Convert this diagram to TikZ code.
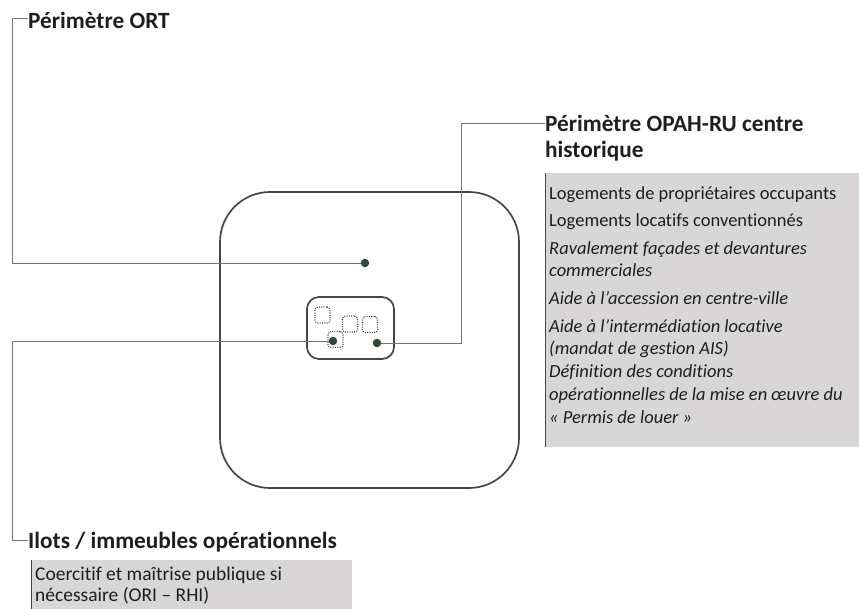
\documentclass[tikz,border=0pt]{standalone}
\usepackage{fontspec}
\setmainfont{Carlito}[Ligatures=NoCommon]
\definecolor{boxgray}{RGB}{216,214,214}
\definecolor{edgegray}{RGB}{70,70,70}
\definecolor{leadgray}{RGB}{115,115,115}
\definecolor{zonegray}{RGB}{70,70,70}
\definecolor{dotgreen}{RGB}{50,72,55}
\definecolor{inkgray}{RGB}{30,30,30}
\newcommand{\headfont}{\fontsize{23.3}{25.5}\selectfont\bfseries}
\newcommand{\listfont}{\fontsize{18.5}{22.8}\selectfont}
\newcommand{\notefont}{\fontsize{19.5}{21}\selectfont}
\begin{document}
\begin{tikzpicture}[x=1pt,y=-1pt,
    zone/.style={draw=zonegray,line width=1.7pt},
    plot/.style={draw=zonegray,dash pattern=on 1pt off 1.3pt,line width=1.2pt,rounded corners=3pt,minimum width=15pt,minimum height=16pt,inner sep=0pt},
    dot/.style={circle,fill=dotgreen,inner sep=0pt,minimum size=8.5pt},
    leader/.style={draw=leadgray,line width=0.9pt},
    heading/.style={font=\headfont,text=inkgray,inner sep=0pt},
    listbox/.style={fill=boxgray,inner sep=0pt},
    boxedge/.style={draw=edgegray,line width=1.3pt},
    listtext/.style={font=\listfont,text=inkgray,inner sep=0pt,align=left}]
  \useasboundingbox (0,0) rectangle (859,609);
  \node[zone,minimum width=299pt,minimum height=296pt,rounded corners=50pt] (ortzone) at (369.5,340) {};
  \node[zone,minimum width=87pt,minimum height=62pt,rounded corners=12pt] (opahzone) at (350.5,328) {};
  \node[plot] (plota) at (322.5,315) {};
  \node[plot] (plotb) at (350,324) {};
  \node[plot] (plotc) at (370,324.5) {};
  \node[plot] (plotd) at (335.5,339.5) {};
  \node[dot] (ortdot) at (365,263) {};
  \node[dot] (opahdot) at (377,343) {};
  \node[dot] (ilotdot) at (333,341) {};
  \node[heading,anchor=base west] (ortlabel) at (28,29) {Périmètre ORT};
  \node[heading,anchor=north west,align=left] (opahlabel) at (545,115) {Périmètre OPAH-RU centre\\historique};
  \node[heading,anchor=base west] (ilotlabel) at (28,548) {Ilots / immeubles opérationnels};
  \node[listbox,minimum width=313pt,minimum height=274pt] (opahbox) at (702.5,310) {};
  \draw[boxedge] (opahbox.north west) -- (opahbox.south west);
  \node[listtext,anchor=north west] (opahlist) at (549,186) {Logements de propriétaires occupants\\[4.5pt]
    Logements locatifs conventionnés\\[5pt]
    \itshape Ravalement façades et devantures\\
    \itshape commerciales\\[4.5pt]
    \itshape Aide à l’accession en centre-ville\\[5pt]
    \itshape Aide à l’intermédiation locative\\
    \itshape (mandat de gestion AIS)\\
    \itshape Définition des conditions\\
    \itshape opérationnelles de la mise en œuvre du\\
    \itshape «~Permis de louer~»};
  \node[listbox,minimum width=320pt,minimum height=49pt] (ilotbox) at (192,584.5) {};
  \draw[boxedge] (ilotbox.north west) -- (ilotbox.south west);
  \node[listtext,font=\notefont,anchor=north west] (ilotlist) at (35,567) {Coercitif et maîtrise publique si\\nécessaire (ORI – RHI)};
  \coordinate (ortbend) at (12,18);
  \coordinate (opahbend) at (461,123);
  \coordinate (ilotbend) at (12,540);
  \draw[leader] (ortdot) -| (ortbend) -- (ortbend -| ortlabel.west);
  \draw[leader] (opahdot) -| (opahbend) -- (opahbend -| opahlabel.west);
  \draw[leader] (ilotdot) -| (ilotbend) -- (ilotbend -| ilotlabel.west);
\end{tikzpicture}
\end{document}
